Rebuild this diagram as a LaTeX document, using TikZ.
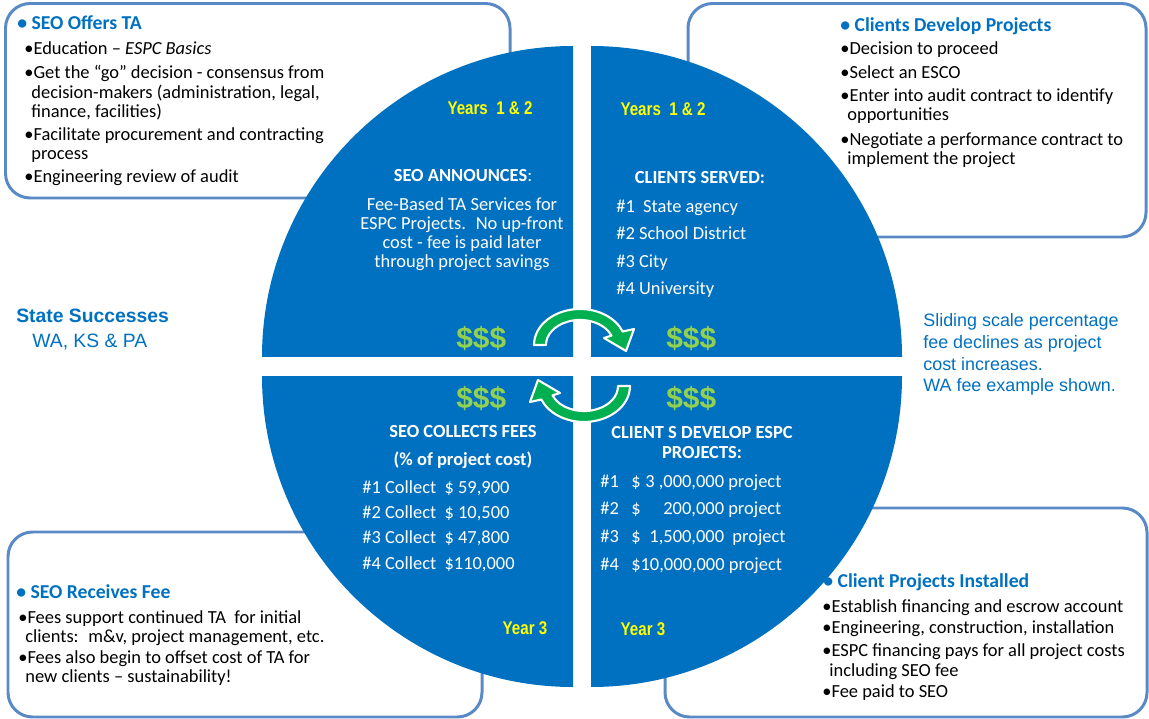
\documentclass[tikz,border=0pt]{standalone}
\usepackage{fontspec}
\setmainfont{Carlito}
\newfontfamily\arialfont{Liberation Sans}
\newfontfamily\narrowfont[FakeStretch=0.82]{Liberation Sans}

\definecolor{circblue}{HTML}{0070C0}
\definecolor{boxline}{HTML}{5A8AC6}
\definecolor{headblue}{HTML}{0070C0}
\definecolor{moneygreen}{HTML}{92D050}
\definecolor{arrowgreen}{HTML}{00B050}
\definecolor{yeartext}{HTML}{FFFF00}

\newcommand\wrapin{\hspace*{4pt}}
\newcommand\amt[1]{\makebox[47.5pt][r]{#1}}

\tikzset{
  roundbox/.style={draw=boxline, line width=1.7pt, rounded corners=14pt},
  quarter/.style={fill=circblue},
  boxhead/.style={anchor=base west, inner sep=0pt, text=headblue, font=\bfseries\fontsize{11.2}{13}\selectfont},
  boxitem/.style={anchor=base west, inner sep=0pt, align=left, font=\fontsize{10.5}{11.3}\selectfont},
  quadhead/.style={anchor=base, inner sep=0pt, align=center, text=white, font=\bfseries\fontsize{10.5}{11.3}\selectfont},
  quadbody/.style={inner sep=0pt, text=white},
  money/.style={anchor=base west, inner sep=0pt, text=moneygreen, font=\arialfont\bfseries\fontsize{17}{17}\selectfont},
  yeartag/.style={anchor=base, inner sep=0pt, text=yeartext, font=\narrowfont\bfseries\fontsize{10.5}{12}\selectfont},
  sidenote/.style={anchor=base west, inner sep=0pt, align=left, text=headblue},
  cyclearrow/.style={fill=arrowgreen, draw=white, line width=1.2pt, line join=round}
}

\begin{document}
\begin{tikzpicture}[x=0.02cm, y=0.02cm]
\useasboundingbox (0,0) rectangle (1149,-719);

\draw[roundbox] (5.5,-3.5) rectangle (510,-198);
\draw[roundbox] (688,-3.5) rectangle (1146,-237);
\draw[roundbox] (8,-532) rectangle (482,-717);
\draw[roundbox] (665,-508) rectangle (1147,-717);

\node[boxhead] (offers) at (17,-30) {\textbullet\ SEO Offers TA};
\node[boxitem] (educ) at (24,-55) {•Education – \textit{ESPC Basics}};
\node[boxitem] (go) at (24,-118) {•Get the “go” decision - consensus from\\\wrapin decision-makers (administration, legal,\\\wrapin finance, facilities)};
\node[boxitem] (procure) at (24,-160) {•Facilitate procurement and contracting\\\wrapin process};
\node[boxitem] (review) at (24,-183) {•Engineering review of audit};

\node[boxhead] (develop) at (840,-32) {\textbullet\ Clients Develop Projects};
\node[boxitem] (proceed) at (840,-55) {•Decision to proceed};
\node[boxitem] (esco) at (840,-79) {•Select an ESCO};
\node[boxitem] (audit) at (840,-121) {•Enter into audit contract to identify\\\wrapin opportunities};
\node[boxitem] (negot) at (840,-165) {•Negotiate a performance contract to\\\wrapin implement the project};

\node[boxhead] (receives) at (16,-598) {\textbullet\ SEO Receives Fee};
\node[boxitem, font=\fontsize{10.5}{10.8}\selectfont] (support) at (18,-642) {•Fees support continued TA~ for initial\\\wrapin clients:~ m\&v, project management, etc.};
\node[boxitem, font=\fontsize{10.5}{10.8}\selectfont] (offset) at (18,-682) {•Fees also begin to offset cost of TA for\\\wrapin new clients – sustainability!};

\node[boxhead] (installed) at (823,-587) {\textbullet\ Client Projects Installed};
\node[boxitem] (escrow) at (822,-612) {•Establish financing and escrow account};
\node[boxitem] (constr) at (822,-633) {•Engineering, construction, installation};
\node[boxitem] (pays) at (822,-676) {•ESPC financing pays for all project costs\\\wrapin including SEO fee};
\node[boxitem] (paid) at (822,-697) {•Fee paid to SEO};

\fill[quarter] (573,-357) -- (262,-357) arc[start angle=180, end angle=90, radius=311] -- cycle;
\fill[quarter] (591,-357) -- (591,-46) arc[start angle=90, end angle=0, radius=311] -- cycle;
\fill[quarter] (573,-376) -- (262,-376) arc[start angle=180, end angle=270, radius=311] -- cycle;
\fill[quarter] (591,-376) -- (902,-376) arc[start angle=0, end angle=-90, radius=311] -- cycle;

\node[yeartag] (yrtl) at (490,-115) {Years~~1 \& 2};
\node[yeartag] (yrtr) at (663,-116) {Years~~1 \& 2};
\node[yeartag] (yrbl) at (525,-634) {Year 3};
\node[yeartag] (yrbr) at (643,-635) {Year 3};

\node[quadhead] (announce) at (463,-182) {SEO ANNOUNCES\mdseries:};
\node[quadbody, anchor=base, align=center, font=\fontsize{10.5}{11}\selectfont] (feebased) at (462,-268) {Fee-Based TA Services for\\ESPC Projects.~ No up-front\\cost - fee is paid later\\through project savings};

\node[quadhead] (served) at (700,-184) {CLIENTS SERVED:};
\node[quadbody, anchor=base west, align=left, font=\fontsize{10.5}{15.7}\selectfont] (clients) at (616,-295) {\#1~ State agency\\\#2 School District\\\#3 City\\\#4 University};

\node[quadhead] (collects) at (463,-437) {SEO COLLECTS FEES};
\node[quadhead] (percent) at (463,-465) {(\% of project cost)};
\node[quadbody, anchor=base west, align=left, font=\fontsize{10.5}{14.3}\selectfont] (fees) at (362,-569) {\#1 Collect~ \$ 59,900\\\#2 Collect~ \$ 10,500\\\#3 Collect~ \$ 47,800\\\#4 Collect~ \$110,000};

\node[quadhead] (espc) at (702,-458) {CLIENT S DEVELOP ESPC\\PROJECTS:};
\node[quadbody, anchor=base west, align=left, font=\fontsize{10.5}{15.7}\selectfont] (projects) at (600,-570) {\makebox[17.6pt][l]{\#1}\$\amt{3 ,000,000} project\\\makebox[17.6pt][l]{\#2}\$\amt{200,000} project\\\makebox[17.6pt][l]{\#3}\$\amt{1,500,000}~ project\\\makebox[17.6pt][l]{\#4}\$10,000,000 project};

\node[money] (cashtl) at (456,-349) {\$\$\$};
\node[money] (cashtr) at (666,-349) {\$\$\$};
\node[money] (cashbl) at (456,-408) {\$\$\$};
\node[money] (cashbr) at (666,-408) {\$\$\$};

\begin{scope}[shift={(580,-345)}]
\path[cyclearrow] (-46,0) arc[start angle=180, end angle=22, x radius=46, y radius=36] -- (54,16) -- (46,-6) -- (24,7) -- (31.5,9.4) arc[start angle=22, end angle=180, x radius=34, y radius=25] -- cycle;
\end{scope}
\begin{scope}[shift={(584,-386)}, rotate=180]
\path[cyclearrow] (-46,0) arc[start angle=180, end angle=22, x radius=46, y radius=36] -- (54,16) -- (46,-6) -- (24,7) -- (31.5,9.4) arc[start angle=22, end angle=180, x radius=34, y radius=25] -- cycle;
\end{scope}

\node[sidenote, font=\arialfont\bfseries\fontsize{11}{13}\selectfont] (states) at (16,-323) {State Successes};
\node[sidenote, font=\arialfont\fontsize{11}{13}\selectfont] (stlist) at (32,-348) {WA, KS \& PA};
\node[sidenote, font=\arialfont\fontsize{10.2}{12.5}\selectfont] (sliding) at (923,-392) {Sliding scale percentage\\fee declines as project\\cost increases.\\WA fee example shown.};
\end{tikzpicture}
\end{document}
